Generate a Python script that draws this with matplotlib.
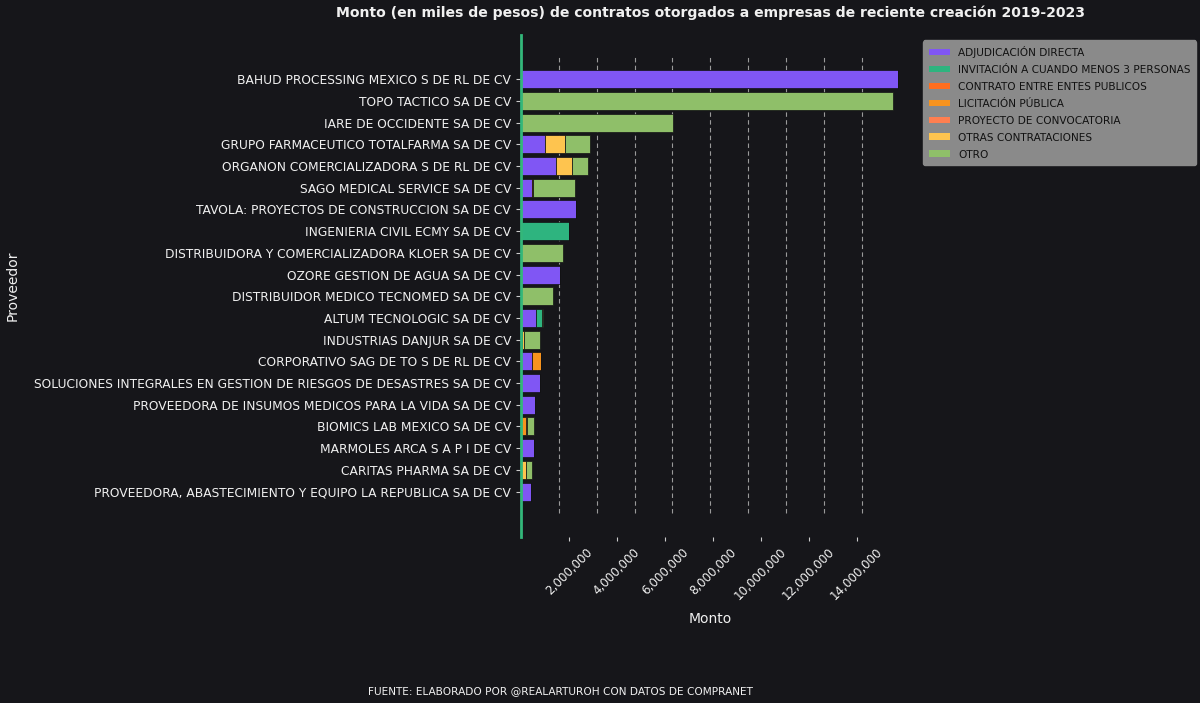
import matplotlib
matplotlib.use("Agg")
import matplotlib.pyplot as plt
import matplotlib.ticker as mticker
from matplotlib.patches import Patch
import numpy as np

proveedores = [
    "BAHUD PROCESSING MEXICO S DE RL DE CV",
    "TOPO TACTICO SA DE CV",
    "IARE DE OCCIDENTE SA DE CV",
    "GRUPO FARMACEUTICO TOTALFARMA SA DE CV",
    "ORGANON COMERCIALIZADORA S DE RL DE CV",
    "SAGO MEDICAL SERVICE SA DE CV",
    "TAVOLA: PROYECTOS DE CONSTRUCCION SA DE CV",
    "INGENIERIA CIVIL ECMY SA DE CV",
    "DISTRIBUIDORA Y COMERCIALIZADORA KLOER SA DE CV",
    "OZORE GESTION DE AGUA SA DE CV",
    "DISTRIBUIDOR MEDICO TECNOMED SA DE CV",
    "ALTUM TECNOLOGIC SA DE CV",
    "INDUSTRIAS DANJUR SA DE CV",
    "CORPORATIVO SAG DE TO S DE RL DE CV",
    "SOLUCIONES INTEGRALES EN GESTION DE RIESGOS DE DESASTRES SA DE CV",
    "PROVEEDORA DE INSUMOS MEDICOS PARA LA VIDA SA DE CV",
    "BIOMICS LAB MEXICO SA DE CV",
    "MARMOLES ARCA S A P I DE CV",
    "CARITAS PHARMA SA DE CV",
    "PROVEEDORA, ABASTECIMIENTO Y EQUIPO LA REPUBLICA SA DE CV",
]

tipos = [
    "ADJUDICACIÓN DIRECTA",
    "INVITACIÓN A CUANDO MENOS 3 PERSONAS",
    "CONTRATO ENTRE ENTES PUBLICOS",
    "LICITACIÓN PÚBLICA",
    "PROYECTO DE CONVOCATORIA",
    "OTRAS CONTRATACIONES",
    "OTRO",
]

# montos (miles de pesos) por tipo de contratacion, en el orden de proveedores
adjudicacion = [15700000, 0, 0, 1000000, 1450000, 450000, 2280000, 0, 0, 1640000,
                0, 625000, 0, 460000, 790000, 610000, 0, 540000, 0, 420000]
invitacion = [0, 0, 0, 0, 0, 0, 0, 2000000, 0, 0,
              0, 260000, 0, 0, 0, 0, 0, 0, 0, 0]
entes_publicos = [0, 0, 0, 0, 20000, 60000, 0, 0, 0, 0,
                  0, 0, 0, 0, 0, 0, 0, 0, 0, 0]
licitacion = [0, 0, 0, 0, 0, 0, 0, 0, 0, 0,
              0, 0, 70000, 375000, 0, 0, 200000, 0, 0, 0]
convocatoria = [0, 0, 0, 0, 0, 0, 0, 0, 0, 0,
                0, 0, 0, 0, 0, 0, 0, 0, 0, 0]
otras = [0, 0, 0, 830000, 680000, 0, 0, 0, 0, 0,
         0, 0, 70000, 0, 0, 0, 40000, 0, 200000, 0]
otro = [0, 15490000, 6360000, 1040000, 630000, 1750000, 0, 0, 1740000, 0,
        1350000, 60000, 670000, 0, 0, 0, 320000, 0, 270000, 0]

series = [adjudicacion, invitacion, entes_publicos, licitacion, convocatoria, otras, otro]
colores = ["#8056f4", "#2eb47f", "#ff6e1f", "#f7931e", "#ff7f50", "#fec44f", "#8fbf69"]

bg = "#16161a"
txt = "#f0f0f0"

fig = plt.figure(figsize=(12, 7.03), dpi=100, facecolor=bg)
ax = fig.add_axes([0.434, 0.236, 0.316, 0.714])
ax.set_facecolor(bg)

y = np.arange(len(proveedores))
left = np.zeros(len(proveedores))
for tipo, vals, col in zip(tipos, series, colores):
    vals = np.array(vals, dtype=float)
    ax.barh(y, vals, left=left, height=0.83, color=col,
            edgecolor="#121214", linewidth=0.5, label=tipo)
    left += vals

ax.set_ylim(21.1, -2.03)
ax.set_xlim(0, 15.8e6)
ax.set_yticks(y)
ax.set_yticklabels(proveedores, fontsize=8.85, color=txt)

ax.xaxis.set_major_locator(mticker.MultipleLocator(2e6))
ax.xaxis.set_major_formatter(mticker.FuncFormatter(lambda v, p: "{:,.0f}".format(v)))
ticks = [t for t in ax.get_xticks() if 0 < t <= 15.8e6]
ax.set_xticks(ticks)
plt.setp(ax.get_xticklabels(), rotation=45, fontsize=8.6, color=txt)
ax.tick_params(axis="x", colors="#cccccc", length=3, labelcolor=txt, pad=3)
ax.tick_params(axis="y", colors="#cccccc", length=3.5, labelcolor=txt)

# dashed guide lines
ax.vlines(np.arange(1, 10) / 10, 0.048, 0.956, transform=ax.transAxes,
          colors="#9a9a9a", linestyles=(0, (4, 3)), linewidth=0.8, zorder=0.5)

for s in ["top", "right", "bottom"]:
    ax.spines[s].set_visible(False)
ax.spines["left"].set_color("#33b77a")
ax.spines["left"].set_linewidth(2)

ax.set_xlabel("Monto", fontsize=10, color=txt, labelpad=7)
ax.set_ylabel("Proveedor", fontsize=10, color=txt)
ax.yaxis.set_label_coords(-1.322, 0.5)
ax.set_title("Monto (en miles de pesos) de contratos otorgados a empresas de reciente creación 2019-2023",
             fontsize=10.1, fontweight="bold", color=txt, pad=13)

handles = [Patch(facecolor=c, edgecolor="none", label=t) for t, c in zip(tipos, colores)]
leg = fig.legend(handles=handles, loc="upper left", bbox_to_anchor=(0.765, 0.95),
                 fontsize=7.6, facecolor="#8a8a8a", edgecolor="#8a8a8a",
                 framealpha=1, handlelength=2.0, handleheight=0.6,
                 labelspacing=0.66, borderpad=0.5)
for t in leg.get_texts():
    t.set_color("#111111")

fig.text(0.467, 0.012, "FUENTE: ELABORADO POR @REALARTUROH CON DATOS DE COMPRANET",
         fontsize=7.6, color=txt, ha="center")

fig.savefig("out.png", dpi=100, facecolor=bg)
